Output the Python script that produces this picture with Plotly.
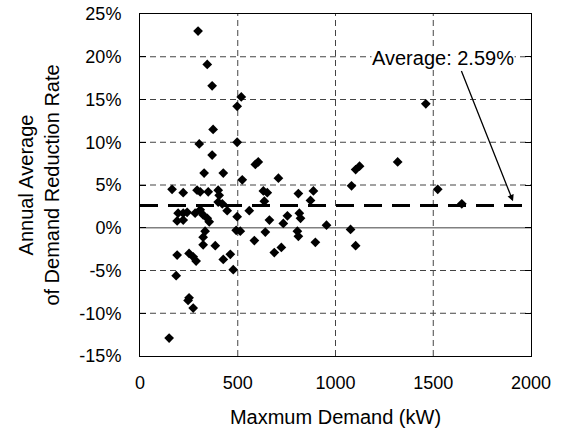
import plotly.graph_objects as go

# Maximum demand (kW) and annual average demand reduction rate (%)
demand_kw = [297, 344, 369, 518, 497, 374, 303, 497, 369, 590, 605, 328, 426, 523, 708,
             164, 221, 292, 308, 349, 400, 405, 400, 421, 446, 497, 559, 631, 651, 636,
             810, 887, 872, 195, 221, 241, 190, 221, 282, 308, 323, 344, 354, 662, 754,
             733, 815, 821, 954, 805, 810, 641, 585, 687, 723, 897, 492, 513, 333, 323,
             323, 385, 190, 251, 272, 287, 426, 462, 477, 185, 246, 251, 272, 149, 1462,
             1318, 1103, 1123, 1082, 1523, 1646, 1077, 1103]
reduction_pct = [23.0, 19.1, 16.6, 15.3, 14.2, 11.5, 9.8, 10.0, 8.5, 7.4, 7.7, 6.4, 6.4, 5.6, 5.8,
                 4.5, 4.1, 4.4, 4.2, 4.2, 4.4, 3.8, 3.0, 2.8, 2.0, 1.3, 2.0, 4.3, 4.1, 3.1,
                 4.0, 4.3, 3.2, 1.7, 1.7, 1.8, 0.8, 0.9, 1.7, 2.1, 1.5, 1.1, 0.7, 0.9, 1.4,
                 0.5, 1.7, 1.1, 0.3, -0.4, -1.0, -0.5, -1.5, -2.9, -2.3, -1.7, -0.3, -0.4, -0.4, -1.1,
                 -2.0, -2.1, -3.2, -3.0, -3.4, -3.9, -3.7, -3.1, -4.9, -5.6, -8.5, -8.2, -9.4, -12.9, 14.5,
                 7.7, 6.8, 7.2, 4.9, 4.5, 2.8, -0.2, -2.1]
average_pct = 2.59
x_range = [0, 2000]
y_range = [-15, 25]
x_ticks = [0, 500, 1000, 1500, 2000]
y_ticks = [-15, -10, -5, 0, 5, 10, 15, 20, 25]
y_tick_labels = [f"{v}%" for v in y_ticks]

FONT = "Liberation Sans, Arial, sans-serif"

fig = go.Figure()

grid_color = "#444444"
shapes = []
for xv in x_ticks[1:-1]:
    shapes.append(dict(type="line", xref="x", yref="y", x0=xv, x1=xv, y0=y_range[0], y1=y_range[1],
                       line=dict(color=grid_color, width=1, dash="6px,4px"), layer="below"))
for yv in y_ticks[1:-1]:
    if yv == 0:
        shapes.append(dict(type="line", xref="x", yref="y", x0=x_range[0], x1=x_range[1], y0=0, y1=0,
                           line=dict(color="#808080", width=1.5), layer="below"))
    else:
        shapes.append(dict(type="line", xref="x", yref="y", x0=x_range[0], x1=x_range[1], y0=yv, y1=yv,
                           line=dict(color=grid_color, width=1, dash="6px,4px"), layer="below"))
shapes.append(dict(type="line", xref="x", yref="y", x0=x_range[0], x1=x_range[1],
                   y0=average_pct, y1=average_pct,
                   line=dict(color="black", width=3, dash="18px,10px"), layer="below"))

fig.add_trace(go.Scatter(
    x=demand_kw, y=reduction_pct, mode="markers",
    marker=dict(symbol="diamond", size=7.5, color="black", line=dict(width=0)),
    showlegend=False,
))

fig.add_annotation(
    x=1908, y=3.1, xref="x", yref="y",
    ax=1641, ay=18.5, axref="x", ayref="y",
    showarrow=True, arrowhead=2, arrowsize=1, arrowwidth=1.3, arrowcolor="black",
    text="",
)
fig.add_annotation(
    x=1549, y=19.9, xref="x", yref="y", showarrow=False,
    text=f"Average: {average_pct}%", font=dict(family=FONT, size=20, color="black"),
    bgcolor="white", borderpad=0,
)

fig.update_layout(
    width=570, height=430,
    margin=dict(l=140, r=39, t=14, b=74),
    paper_bgcolor="white", plot_bgcolor="white",
    font=dict(family=FONT, size=18, color="black"),
    shapes=shapes,
    xaxis=dict(range=x_range, tickvals=x_ticks, showgrid=False, zeroline=False,
               showline=True, linecolor="black", linewidth=1, mirror=True,
               ticks="", ticklabelstandoff=10, automargin=False,
               title=dict(text="Maxmum Demand (kW)", standoff=18,
                          font=dict(family=FONT, size=20)),
               tickfont=dict(family=FONT, size=18)),
    yaxis=dict(range=y_range, tickvals=y_ticks, ticktext=y_tick_labels, showgrid=False,
               zeroline=False, showline=True, linecolor="black", linewidth=1, mirror="ticks",
               ticks="inside", ticklen=6, tickcolor="black", ticklabelstandoff=14,
               automargin=False,
               title=dict(text="Annual Average<br>of Demand Reduction Rate", standoff=14,
                          font=dict(family=FONT, size=20)),
               tickfont=dict(family=FONT, size=18)),
)

fig.write_html("out.html")
